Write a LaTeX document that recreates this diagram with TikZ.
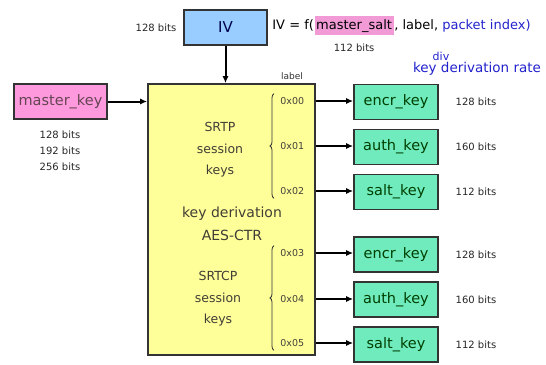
\documentclass[tikz,border=0pt]{standalone}
\usepackage{fontspec}
\setmainfont{DejaVu Sans}
\usetikzlibrary{arrows.meta, positioning, decorations.pathreplacing}
\usepackage{xcolor}
\definecolor{ivblue}{HTML}{99CCFF}
\definecolor{masterpink}{HTML}{FF99DD}
\definecolor{saltpink}{HTML}{F29AD6}
\definecolor{kdfyellow}{HTML}{FFFF99}
\definecolor{keygreen}{HTML}{6FEBBE}
\definecolor{ratblue}{HTML}{2222CC}

\begin{document}
\begin{tikzpicture}[
    x=1pt, y=-1pt,
    thick,
    key box/.style={rectangle, draw=black!80, line width=1.6pt, minimum width=84pt, minimum height=35pt, font=\fontsize{14.5}{16}\selectfont},
    session key/.style={key box, fill=keygreen, text=green!25!black},
    bits/.style={font=\fontsize{10}{12}\selectfont, text=black!85, anchor=west},
    hex/.style={font=\fontsize{9.5}{11}\selectfont, text=black!75!yellow!60!black, anchor=west, inner xsep=1pt},
    inbox/.style={align=center, text=black!80!yellow!70!black},
    feed/.style={-{Latex[length=7pt, width=6pt]}, line width=2pt},
    brace/.style={decorate, decoration={brace, amplitude=4pt}, line width=0.8pt, draw=black!80}
]
    \useasboundingbox (0,0) rectangle (546,364);

    % Inputs
    \node[key box, fill=ivblue, minimum width=83pt, text=blue!30!black, font=\fontsize{15}{17}\selectfont] (IV) at (225.5,27.5) {IV};
    \node[bits, anchor=east] (ivbits) at (180,27.5) {128 bits};
    \node[key box, fill=masterpink, minimum width=93pt, text=magenta!30!black] (master) at (60.5,101.5) {master\_key};
    \node[bits, anchor=north, align=center, font=\fontsize{10}{16}\selectfont] (masterbits) at (60,127) {128 bits\\192 bits\\256 bits};

    % IV formula
    \node[anchor=base west, inner xsep=0pt, font=\fontsize{13}{15}\selectfont] (ivf) at (272,29) {IV = f(};
    \node[anchor=base west, inner xsep=1.5pt, inner ysep=3pt, fill=saltpink, font=\fontsize{13}{15}\selectfont] (salt) at (ivf.base east) {master\_salt};
    \node[anchor=base west, inner xsep=0pt, font=\fontsize{13}{15}\selectfont] (ivrest) at (salt.base east) {, label, \textcolor{ratblue}{packet index)}};
    \node[bits, below=5pt of salt, anchor=north] (saltbits) {112 bits};
    \node[font=\fontsize{11}{13}\selectfont, text=ratblue] (div) at (441,56) {div};
    \node[font=\fontsize{13.5}{15}\selectfont, text=ratblue] (rate) at (477,69) {key derivation rate};

    % Key derivation block
    \node[rectangle, draw=black!80, line width=1.6pt, fill=kdfyellow, minimum width=167pt, minimum height=271pt] (kdf) at (231.5,219.5) {};
    \node[font=\fontsize{9}{11}\selectfont, text=black!80] (label) at (292,76) {label};
    \node[inbox, font=\fontsize{12.5}{21.5}\selectfont] (srtp) at (220,150) {SRTP\\session\\keys};
    \node[inbox, font=\fontsize{14}{23}\selectfont] (aes) at (232,224) {key derivation\\AES-CTR};
    \node[inbox, font=\fontsize{12.5}{21.5}\selectfont] (srtcp) at (218,299) {SRTCP\\session\\keys};

    % Labels
    \node[hex] (h00) at (279,101) {0x00};
    \node[hex] (h01) at (279,146) {0x01};
    \node[hex] (h02) at (279,191) {0x02};
    \node[hex] (h03) at (279,253) {0x03};
    \node[hex] (h04) at (279,299) {0x04};
    \node[hex] (h05) at (279,343) {0x05};
    \draw[brace] ([xshift=-5pt]h02.south west) -- ([xshift=-5pt]h00.north west);
    \draw[brace] ([xshift=-5pt]h05.south west) -- ([xshift=-5pt]h03.north west);

    % Session keys
    \node[session key] (encr1) at (396,102) {encr\_key};
    \node[session key] (auth1) at (396,147) {auth\_key};
    \node[session key] (salt1) at (396,192) {salt\_key};
    \node[session key] (encr2) at (396,254.5) {encr\_key};
    \node[session key] (auth2) at (396,299.5) {auth\_key};
    \node[session key] (salt2) at (396,344.5) {salt\_key};

    \node[bits] (b1) at (452,102) {128 bits};
    \node[bits] (b2) at (452,147) {160 bits};
    \node[bits] (b3) at (452,192) {112 bits};
    \node[bits] (b4) at (452,254.5) {128 bits};
    \node[bits] (b5) at (452,299.5) {160 bits};
    \node[bits] (b6) at (452,344.5) {112 bits};

    % Edges
    \draw[feed] (IV) -- (kdf.north -| IV);
    \draw[feed] (master) -- (master -| kdf.west);
    \draw[feed] (h00 -| kdf.east) -- (h00 -| encr1.west);
    \draw[feed] (h01 -| kdf.east) -- (h01 -| auth1.west);
    \draw[feed] (h02 -| kdf.east) -- (h02 -| salt1.west);
    \draw[feed] (h03 -| kdf.east) -- (h03 -| encr2.west);
    \draw[feed] (h04 -| kdf.east) -- (h04 -| auth2.west);
    \draw[feed] (h05 -| kdf.east) -- (h05 -| salt2.west);
\end{tikzpicture}
\end{document}
